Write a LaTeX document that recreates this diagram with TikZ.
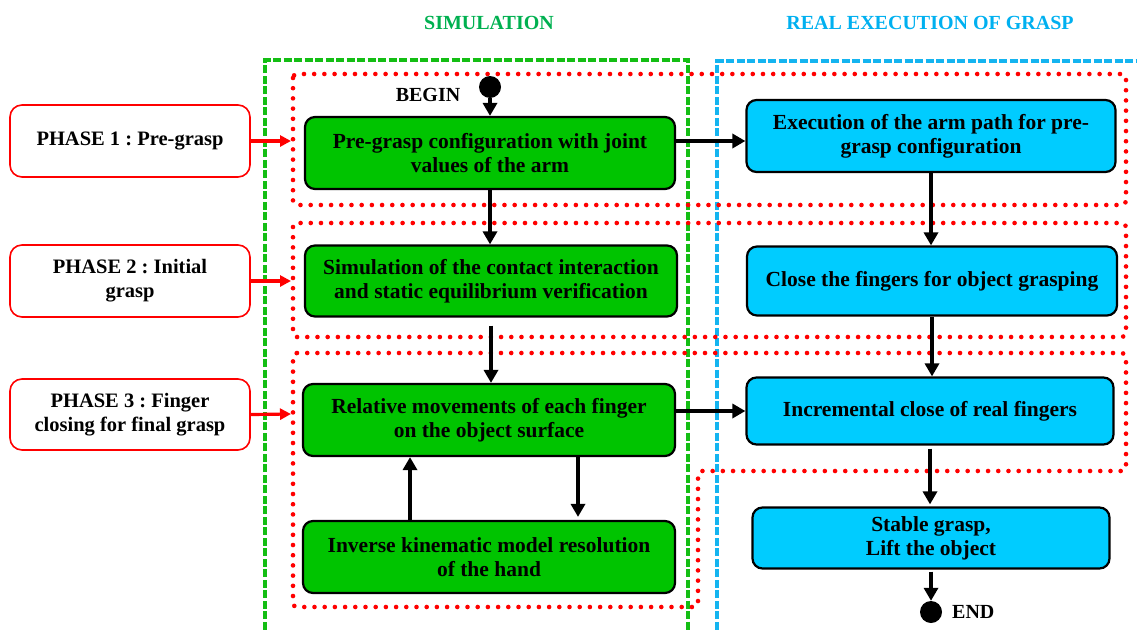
\documentclass[tikz,border=0pt]{standalone}
\usepackage{fontspec}
\setmainfont{Liberation Serif}
\frenchspacing
\usetikzlibrary{arrows.meta,calc}
\definecolor{gfill}{RGB}{0,196,0}
\definecolor{cfill}{RGB}{0,204,255}
\definecolor{gline}{RGB}{20,190,20}
\definecolor{cline}{RGB}{20,180,240}
\definecolor{gtitle}{RGB}{0,176,80}
\definecolor{ctitle}{RGB}{0,176,240}
\definecolor{redc}{RGB}{255,0,0}
\tikzset{
  gbox/.style={draw=black, line width=2.2pt, fill=gfill, rounded corners=10pt, align=center, inner sep=2pt, font=\bfseries\fontsize{21.5}{24}\selectfont},
  cbox/.style={draw=black, line width=2.2pt, fill=cfill, rounded corners=10pt, align=center, inner sep=2pt, font=\bfseries\fontsize{21.5}{24}\selectfont},
  pbox/.style={draw=redc, line width=1.6pt, fill=white, rounded corners=12pt, align=center, minimum width=240pt, inner sep=2pt, font=\bfseries\fontsize{20.5}{24}\selectfont},
  arr/.style={draw=black, line width=4pt, -{Triangle[length=13pt,width=14pt]}},
  rarr/.style={draw=redc, line width=3.2pt, -{Triangle[length=11pt,width=11pt]}},
  reddot/.style={draw=redc, line width=4.6pt, line cap=round, dash pattern=on 0pt off 10.2pt, rounded corners=4pt},
  gdash/.style={draw=gline, line width=4pt, dash pattern=on 8pt off 2.5pt},
  cdash/.style={draw=cline, line width=4pt, dash pattern=on 8pt off 2.5pt},
  dotnode/.style={circle, fill=black, minimum size=22pt, inner sep=0pt},
  lbl/.style={font=\bfseries\fontsize{20}{22}\selectfont, inner sep=0pt}
}
\begin{document}
\begin{tikzpicture}[x=1pt,y=-1pt]
\useasboundingbox (0,0) rectangle (1137,629);
% titles
\node[lbl, text=gtitle] (t1) at (489,23) {SIMULATION};
\node[lbl, text=ctitle] (t2) at (930,23) {REAL EXECUTION OF GRASP};
% region frames
\draw[gdash] (265,640) -- (265,60) -- (688,60) -- (688,640);
\draw[cdash] (717,640) -- (717,61) -- (1145,61);
% phase dotted frames
\draw[reddot] (293,74) rectangle (1126,205);
\draw[reddot] (293,223) rectangle (1126,337);
\draw[reddot] (293,353) -- (1126,353) -- (1126,471) -- (698,471) -- (698,607) -- (293,607) -- cycle;
% phase boxes
\node[pbox, minimum height=72pt] (p1) at (130,141) {PHASE 1 : Pre-grasp};
\node[pbox, minimum height=72pt] (p2) at (130,281) {PHASE 2 : Initial\\grasp};
\node[pbox, minimum height=71pt] (p3) at (130,414.5) {PHASE 3 : Finger\\closing for final grasp};
\coordinate (r1) at (291,141);
\coordinate (r2) at (291,281);
\coordinate (r3) at (291,414);
\draw[rarr] (p1.east) -- (r1);
\draw[rarr] (p2.east) -- (r2);
\draw[rarr] (p3.east) -- (r3);
% simulation boxes
\node[gbox, minimum width=370pt, minimum height=72pt] (g1) at (490,153) {Pre-grasp configuration with joint\\values of the arm};
\node[gbox, minimum width=372pt, minimum height=71pt] (g2) at (491,281) {Simulation of the contact interaction\\and static equilibrium verification};
\node[gbox, minimum width=372pt, minimum height=72pt] (g3) at (489,420) {Relative movements of each finger\\on the object surface};
\node[gbox, minimum width=372pt, minimum height=72pt] (g4) at (489,557) {Inverse kinematic model resolution\\of the hand};
% real execution boxes
\node[cbox, minimum width=369pt, minimum height=72pt] (c1) at (931,136) {Execution of the arm path for pre-\\grasp configuration};
\node[cbox, minimum width=370pt, minimum height=69pt] (c2) at (932,281) {Close the fingers for object grasping};
\node[cbox, minimum width=367pt, minimum height=67pt] (c3) at (930,411) {Incremental close of real fingers};
\node[cbox, minimum width=357pt, minimum height=61pt] (c4) at (931,538) {Stable grasp,\\Lift the object};
% begin / end
\node[dotnode] (bg) at (490,87) {};
\node[lbl] (bgt) at (428,95) {BEGIN};
\node[dotnode] (en) at (931,612) {};
\node[lbl, anchor=west] (ent) at (952,612) {END};
% arrows
\draw[arr] (bg.south) -- (g1.north);
\draw[arr] ([yshift=12pt]g1.east) -- ([yshift=12pt]g1.east -| c1.west);
\draw[arr] (g1.south) -- (g1.south |- g2.north);
\draw[arr] (c1.south) -- (c1.south |- c2.north);
\draw[arr] ([yshift=-8pt]g2.south) -- (g2.south |- g3.north);
\draw[arr] (c2.south) -- (c2.south |- c3.north);
\draw[arr] ([yshift=9pt]g3.east) -- ([yshift=9pt]g3.east -| c3.west);
\draw[arr] ([xshift=-79pt]g4.north) -- ([xshift=-79pt]g3.south);
\draw[arr, shorten >=3pt] ([xshift=89pt]g3.south) -- ([xshift=89pt]g4.north);
\draw[arr, shorten >=2pt] ([yshift=-3pt]c3.south) -- (c3.south |- c4.north);
\draw[arr] ([yshift=-2pt]c4.south) -- (c4.south |- en.north);
\end{tikzpicture}
\end{document}
